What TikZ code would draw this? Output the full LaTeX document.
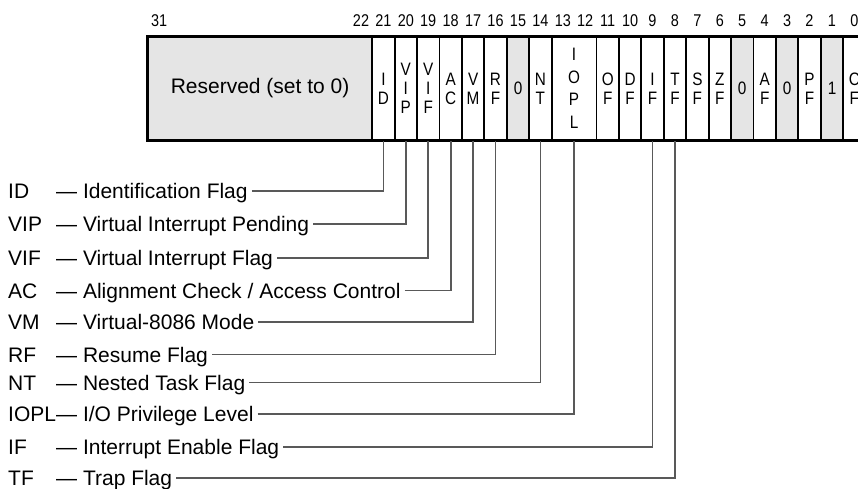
\documentclass[tikz,border=0pt]{standalone}
\usepackage{fontspec}
\setmainfont{Liberation Sans}
\newfontfamily\narrowsans[FakeStretch=0.85]{Liberation Sans}
\usetikzlibrary{positioning}

\tikzset{
	cell/.style = {draw, line width=1.8pt, minimum width=22.43pt, minimum height=103pt, inner sep=0pt, align=center, font=\narrowsans\fontsize{18}{19}\selectfont},
	zero/.style = {cell, fill=gray!20},
	bitnum/.style = {inner sep=0pt, font=\narrowsans\fontsize{17}{17}\selectfont},
	flagtxt/.style = {anchor=west, inner sep=0pt, text height=15pt, text depth=0pt, font=\fontsize{21}{25}\selectfont},
	leader/.style = {draw=black!65, line width=1.6pt, shorten <=4pt},
}

\begin{document}
\begin{tikzpicture}[x=1pt, y=-1pt]
	\useasboundingbox (0, 0) rectangle (858, 489);
	\clip (0, 0) rectangle (858, 489);

	% bit numbers
	\node[bitnum] (n31) at (159.1, 21) {31};
	\node[bitnum] (n22) at (361.0, 21) {22};
	\node[bitnum] (n21) at (383.4, 21) {21};
	\node[bitnum] (n20) at (405.8, 21) {20};
	\node[bitnum] (n19) at (428.2, 21) {19};
	\node[bitnum] (n18) at (450.7, 21) {18};
	\node[bitnum] (n17) at (473.1, 21) {17};
	\node[bitnum] (n16) at (495.5, 21) {16};
	\node[bitnum] (n15) at (518.0, 21) {15};
	\node[bitnum] (n14) at (540.4, 21) {14};
	\node[bitnum] (n13) at (562.8, 21) {13};
	\node[bitnum] (n12) at (585.2, 21) {12};
	\node[bitnum] (n11) at (607.7, 21) {11};
	\node[bitnum] (n10) at (630.1, 21) {10};
	\node[bitnum] (n9)  at (652.5, 21) {9};
	\node[bitnum] (n8)  at (675.0, 21) {8};
	\node[bitnum] (n7)  at (697.4, 21) {7};
	\node[bitnum] (n6)  at (719.8, 21) {6};
	\node[bitnum] (n5)  at (742.2, 21) {5};
	\node[bitnum] (n4)  at (764.7, 21) {4};
	\node[bitnum] (n3)  at (787.1, 21) {3};
	\node[bitnum] (n2)  at (809.5, 21) {2};
	\node[bitnum] (n1)  at (832.0, 21) {1};
	\node[bitnum] (n0)  at (854.4, 21) {0};

	% register cells
	\node[zero, minimum width=224.3pt, font=\fontsize{21}{25}\selectfont] (res) at (260.05, 88.5) {Reserved (set to 0)};
	\node[cell] (fID)   at (383.4, 88.5) {I\\D};
	\node[cell] (fVIP)  at (405.8, 88.5) {V\\I\\P};
	\node[cell] (fVIF)  at (428.2, 88.5) {V\\I\\F};
	\node[cell] (fAC)   at (450.7, 88.5) {A\\C};
	\node[cell] (fVM)   at (473.1, 88.5) {V\\M};
	\node[cell] (fRF)   at (495.5, 88.5) {R\\F};
	\node[zero] (f15)   at (518.0, 88.5) {0};
	\node[cell] (fNT)   at (540.4, 88.5) {N\\T};
	\node[cell, minimum width=44.86pt, font=\narrowsans\fontsize{18}{22.5}\selectfont] (fIOPL) at (574.0, 88.5) {I\\O\\P\\L};
	\node[cell] (fOF)   at (607.7, 88.5) {O\\F};
	\node[cell] (fDF)   at (630.1, 88.5) {D\\F};
	\node[cell] (fIF)   at (652.5, 88.5) {I\\F};
	\node[cell] (fTF)   at (675.0, 88.5) {T\\F};
	\node[cell] (fSF)   at (697.4, 88.5) {S\\F};
	\node[cell] (fZF)   at (719.8, 88.5) {Z\\F};
	\node[zero] (f5)    at (742.2, 88.5) {0};
	\node[cell] (fAF)   at (764.7, 88.5) {A\\F};
	\node[zero] (f3)    at (787.1, 88.5) {0};
	\node[cell] (fPF)   at (809.5, 88.5) {P\\F};
	\node[zero] (f1)    at (832.0, 88.5) {1};
	\node[cell] (fCF)   at (854.4, 88.5) {C\\F};
	\draw[line width=2.2pt] (res.north west) rectangle (fCF.south east);

	% flag names
	\node[flagtxt] (aID)   at (8, 191)   {ID};
	\node[flagtxt] (aVIP)  at (8, 224)   {VIP};
	\node[flagtxt] (aVIF)  at (8, 258)   {VIF};
	\node[flagtxt] (aAC)   at (8, 290.5) {AC};
	\node[flagtxt] (aVM)   at (8, 322)   {VM};
	\node[flagtxt] (aRF)   at (8, 354.5) {RF};
	\node[flagtxt] (aNT)   at (8, 382.5) {NT};
	\node[flagtxt] (aIOPL) at (8, 414)   {IOPL};
	\node[flagtxt] (aIF)   at (8, 447)   {IF};
	\node[flagtxt] (aTF)   at (8, 478)   {TF};

	\node[flagtxt] (dID)   at (56, 191)   {— Identification Flag};
	\node[flagtxt] (dVIP)  at (56, 224)   {— Virtual Interrupt Pending};
	\node[flagtxt] (dVIF)  at (56, 258)   {— Virtual Interrupt Flag};
	\node[flagtxt] (dAC)   at (56, 290.5) {— Alignment Check / Access Control};
	\node[flagtxt] (dVM)   at (56, 322)   {— Virtual-8086 Mode};
	\node[flagtxt] (dRF)   at (56, 354.5) {— Resume Flag};
	\node[flagtxt] (dNT)   at (56, 382.5) {— Nested Task Flag};
	\node[flagtxt] (dIOPL) at (56, 414)   {— I/O Privilege Level};
	\node[flagtxt] (dIF)   at (56, 447)   {— Interrupt Enable Flag};
	\node[flagtxt] (dTF)   at (56, 478)   {— Trap Flag};

	% leaders
	\draw[leader] (dID.east)   -| (fID.south);
	\draw[leader] (dVIP.east)  -| (fVIP.south);
	\draw[leader] (dVIF.east)  -| (fVIF.south);
	\draw[leader] (dAC.east)   -| (fAC.south);
	\draw[leader] (dVM.east)   -| (fVM.south);
	\draw[leader] (dRF.east)   -| (fRF.south);
	\draw[leader] (dNT.east)   -| (fNT.south);
	\draw[leader] (dIOPL.east) -| (fIOPL.south);
	\draw[leader] (dIF.east)   -| (fIF.south);
	\draw[leader] (dTF.east)   -| (fTF.south);
\end{tikzpicture}
\end{document}
